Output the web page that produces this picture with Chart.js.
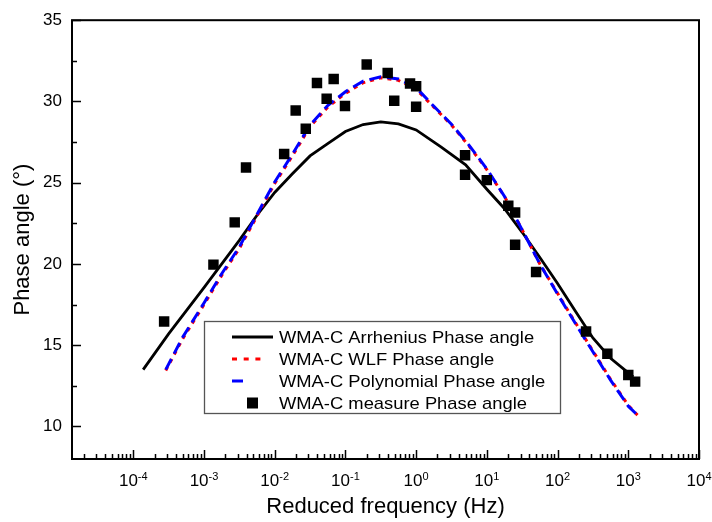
<!DOCTYPE html>
<html lang="en">
<head>
<meta charset="UTF-8">
<title>WMA-C phase angle master curve</title>
<script src="https://cdn.jsdelivr.net/npm/chart.js"></script>
<style>
    html, body { margin: 0; padding: 0; background: #fff; }
    #chart { display: block; }
</style>
</head>
<body>
<canvas id="chart" width="712" height="522"></canvas>
<script>
// measured points: reduced frequency (Hz) / phase angle (deg)
const measFreq  = [2.73e-4, 1.36e-3, 2.72e-3, 3.93e-3, 0.0136, 0.0198, 0.0275, 0.0396, 0.0543, 0.0682,
                   0.0986, 0.200, 0.396, 0.490, 0.820, 1.00, 1.00, 4.92, 4.92, 9.98,
                   20.1, 25.1, 25.1, 49.7, 253, 506, 1000, 1250];
const measPhase = [16.46, 19.96, 22.56, 25.93, 26.77, 29.45, 28.32, 31.14, 30.17, 31.38,
                   29.72, 32.28, 31.75, 30.05, 31.10, 30.93, 29.67, 26.69, 25.49, 25.16,
                   23.58, 23.17, 21.18, 19.51, 15.85, 14.47, 13.17, 12.76];

// Arrhenius model curve
const arrFreq  = [1.38e-4, 3.16e-4, 1.0e-3, 3.16e-3, 5.62e-3, 0.01, 0.0178, 0.0316, 0.0562, 0.1,
                  0.178, 0.316, 0.562, 1, 2.24, 5.01, 10, 17.8, 31.6, 56.2,
                  100, 178, 316, 562, 1175];
const arrPhase = [13.5, 15.7, 18.55, 21.45, 23.0, 24.4, 25.55, 26.65, 27.4, 28.15,
                  28.58, 28.74, 28.62, 28.25, 27.2, 26.1, 24.6, 23.4, 21.95, 20.4,
                  18.8, 17.1, 15.45, 14.2, 13.05];

// WLF and polynomial model curves (same frequency grid)
const modelFreq = [2.88e-4, 5.01e-4, 1.0e-3, 1.78e-3, 3.16e-3, 5.62e-3, 0.01, 0.0178, 0.0316, 0.0562,
                   0.1, 0.178, 0.316, 0.562, 1, 1.78, 3.16, 5.62, 10, 17.8,
                   31.6, 56.2, 100, 178, 316, 562, 1000, 1349];
const wlfPhase  = [13.45, 15.4, 17.5, 19.3, 20.95, 22.95, 24.95, 26.65, 28.45, 29.65,
                   30.5, 31.15, 31.46, 31.3, 30.75, 29.65, 28.55, 27.25, 25.8, 24.15,
                   22.1, 20.0, 18.2, 16.4, 14.65, 12.9, 11.3, 10.7];
const polyPhase = [13.5, 15.5, 17.6, 19.4, 21.05, 23.05, 25.05, 26.75, 28.55, 29.75,
                   30.6, 31.25, 31.52, 31.38, 30.85, 29.7, 28.6, 27.3, 25.85, 24.15,
                   22.1, 20.0, 18.15, 16.35, 14.6, 12.85, 11.25, 10.7];

const xRange = [1.36e-5, 1e4];
const yRange = [8, 35];
const xTickExp = [-4, -3, -2, -1, 0, 1, 2, 3, 4];
const yTicks = [10, 15, 20, 25, 30, 35];
const yMinorTicks = [12.5, 17.5, 22.5, 27.5, 32.5];

const FONT = "'Liberation Sans', Arial, sans-serif";
Chart.defaults.font.family = FONT;
Chart.defaults.color = '#000';

function pairs(xs, ys) {
    return xs.map((x, i) => ({ x: x, y: ys[i] }));
}

// frame, inward ticks and 10^n labels
const axisPlugin = {
    id: 'originAxes',
    afterDraw(chart) {
        const ctx = chart.ctx;
        const area = chart.chartArea;
        const xs = chart.scales.x;
        const ys = chart.scales.y;
        ctx.save();
        ctx.strokeStyle = '#000';
        ctx.lineWidth = 2;
        ctx.strokeRect(area.left, area.top, area.right - area.left, area.bottom - area.top);

        ctx.lineWidth = 1.5;
        ctx.beginPath();
        // x ticks, pointing up into the plot
        for (let p = -5; p <= 4; p++) {
            for (let k = 1; k <= 9; k++) {
                const v = k * Math.pow(10, p);
                if (v < xRange[0] || v > xRange[1]) continue;
                const px = Math.round(xs.getPixelForValue(v)) + 0.5;
                const len = k === 1 ? 9 : 5;
                ctx.moveTo(px, area.bottom);
                ctx.lineTo(px, area.bottom - len);
            }
        }
        // y ticks, pointing right into the plot
        yTicks.forEach(v => {
            const py = Math.round(ys.getPixelForValue(v)) + 0.5;
            ctx.moveTo(area.left, py);
            ctx.lineTo(area.left + 9, py);
        });
        yMinorTicks.forEach(v => {
            const py = Math.round(ys.getPixelForValue(v)) + 0.5;
            ctx.moveTo(area.left, py);
            ctx.lineTo(area.left + 5, py);
        });
        ctx.stroke();

        // 10^n labels
        ctx.fillStyle = '#000';
        ctx.textBaseline = 'alphabetic';
        ctx.textAlign = 'left';
        xTickExp.forEach(e => {
            const px = xs.getPixelForValue(Math.pow(10, e));
            ctx.font = '17px ' + FONT;
            const w1 = ctx.measureText('10').width;
            ctx.font = '11px ' + FONT;
            const exp = String(e);
            const w2 = ctx.measureText(exp).width;
            const x0 = px - (w1 + w2) / 2;
            ctx.font = '17px ' + FONT;
            ctx.fillText('10', x0, area.bottom + 27);
            ctx.font = '11px ' + FONT;
            ctx.fillText(exp, x0 + w1, area.bottom + 21);
        });
        ctx.restore();
    }
};

// boxed legend inside the plot
const legendPlugin = {
    id: 'boxLegend',
    afterDraw(chart, args, opts) {
        const ctx = chart.ctx;
        const b = opts.box;
        ctx.save();
        ctx.fillStyle = '#fff';
        ctx.fillRect(b.x, b.y, b.w, b.h);
        ctx.strokeStyle = '#555';
        ctx.lineWidth = 1.3;
        ctx.strokeRect(b.x + 0.5, b.y + 0.5, b.w, b.h);

        chart.data.datasets.forEach((ds, i) => {
            const item = opts.items[i];
            const cy = b.y + opts.firstRow + i * opts.rowGap;
            const sx = b.x + opts.sampleX;
            if (ds.showLine) {
                ctx.strokeStyle = ds.borderColor;
                ctx.lineWidth = ds.borderWidth;
                ctx.setLineDash(item.dash || []);
                ctx.beginPath();
                ctx.moveTo(sx, cy);
                ctx.lineTo(sx + item.len, cy);
                ctx.stroke();
                ctx.setLineDash([]);
            } else {
                ctx.fillStyle = ds.backgroundColor;
                ctx.fillRect(sx + 15, cy - 5.5, 11, 11);
            }
            ctx.save();
            ctx.translate(b.x + opts.textX, cy + 6);
            ctx.scale(1.08, 1);
            ctx.fillStyle = '#000';
            ctx.font = '17px ' + FONT;
            ctx.textBaseline = 'alphabetic';
            ctx.fillText(ds.label, 0, 0);
            ctx.restore();
        });
        ctx.restore();
    }
};

new Chart(document.getElementById('chart'), {
    type: 'scatter',
    data: {
        datasets: [{
            label: 'WMA-C Arrhenius Phase angle',
            data: pairs(arrFreq, arrPhase),
            showLine: true,
            borderColor: '#000000',
            borderWidth: 2.8,
            pointRadius: 0,
            order: 3
        }, {
            label: 'WMA-C WLF Phase angle',
            data: pairs(modelFreq, wlfPhase),
            showLine: true,
            borderColor: '#ff0000',
            borderWidth: 3,
            borderDash: [4, 5],
            pointRadius: 0,
            order: 2
        }, {
            label: 'WMA-C Polynomial Phase angle',
            data: pairs(modelFreq, polyPhase),
            showLine: true,
            borderColor: '#0000ff',
            borderWidth: 3,
            borderDash: [12, 6],
            pointRadius: 0,
            order: 1
        }, {
            label: 'WMA-C measure Phase angle',
            data: pairs(measFreq, measPhase),
            showLine: false,
            pointStyle: 'rect',
            pointRadius: 7.4,
            backgroundColor: '#000000',
            borderColor: '#000000',
            borderWidth: 0,
            order: 0
        }]
    },
    options: {
        responsive: false,
        animation: false,
        devicePixelRatio: 1,
        layout: { padding: { left: 0, right: 13, top: 16, bottom: 0 } },
        plugins: {
            legend: { display: false },
            tooltip: { enabled: false },
            boxLegend: {
                box: { x: 204, y: 321, w: 356, h: 92 },
                sampleX: 28,
                textX: 75,
                firstRow: 16,
                rowGap: 22,
                items: [{ len: 41 }, { len: 30, dash: [5, 6.7] }, { len: 11 }, {}]
            }
        },
        scales: {
            x: {
                type: 'logarithmic',
                min: xRange[0],
                max: xRange[1],
                grid: { display: false, drawTicks: false },
                border: { display: false },
                ticks: { display: false },
                title: {
                    display: true,
                    text: 'Reduced frequency (Hz)',
                    font: { size: 22 },
                    padding: { top: 0, bottom: 2 }
                },
                afterFit: s => { s.height = 63; }
            },
            y: {
                min: yRange[0],
                max: yRange[1],
                grid: { display: false, drawTicks: false },
                border: { display: false },
                afterBuildTicks: s => { s.ticks = yTicks.map(v => ({ value: v })); },
                ticks: { font: { size: 17 }, padding: 10 },
                title: {
                    display: true,
                    text: 'Phase angle (°)',
                    font: { size: 22 },
                    padding: { top: 10, bottom: 0 }
                },
                afterFit: s => { s.width = 72; }
            }
        }
    },
    plugins: [axisPlugin, legendPlugin]
});
</script>
</body>
</html>
